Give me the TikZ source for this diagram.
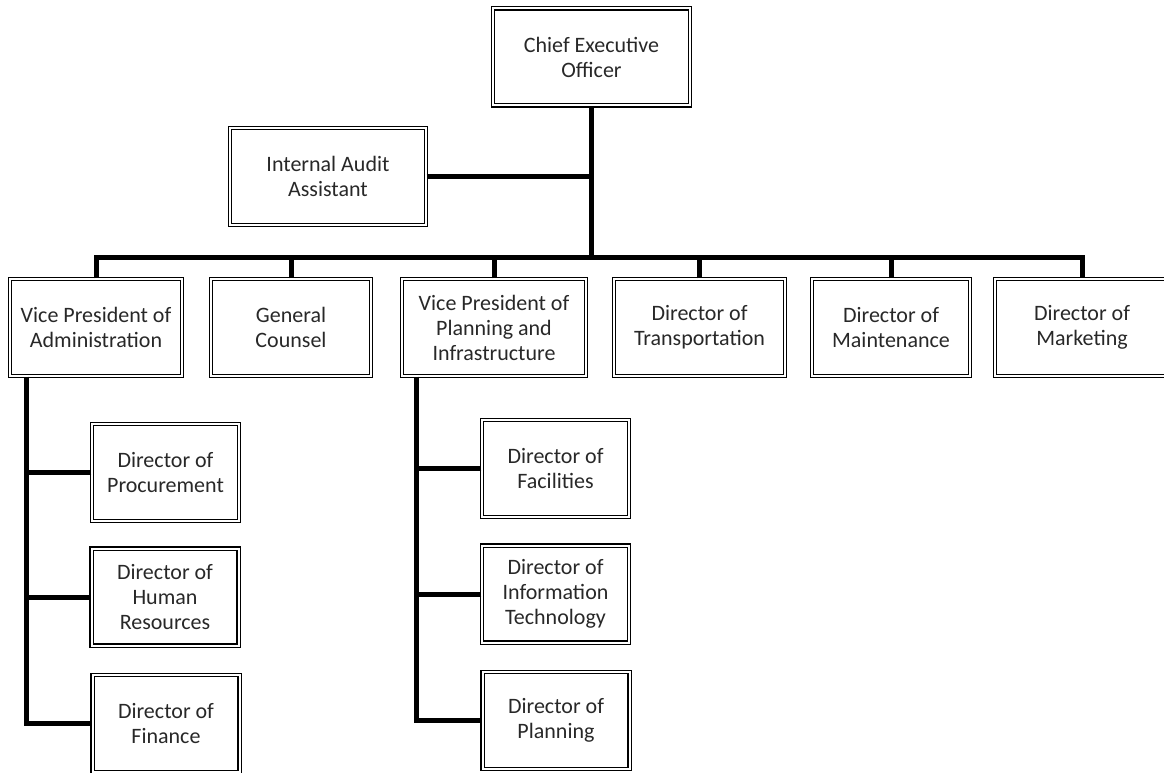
\documentclass[tikz,border=0pt]{standalone}
\usepackage{fontspec}
\setmainfont{Carlito}
\usepackage{tikz}
\usetikzlibrary{positioning,calc}
\definecolor{boxtext}{RGB}{40,40,40}

\begin{document}
\begin{tikzpicture}[x=1pt,y=-1pt,
  post/.style={draw,double,double distance=2pt,line width=1.1pt,align=center,
    text=boxtext,minimum height=97pt,inner sep=2pt,
    font=\fontsize{22}{25}\selectfont},
  link/.style={line width=5pt}]
  \useasboundingbox (0,0) rectangle (1164,773);
  \clip (0,0) rectangle (1164,773);
  \node[post,minimum width=197pt] (ceo) at (591.5,57) {Chief Executive\\Officer};
  \node[post,minimum width=196pt] (audit) at (328,176.5) {Internal Audit\\Assistant};
  \node[post,minimum width=172pt] (vpadmin) at (96,327.5) {Vice President of\\Administration};
  \node[post,minimum width=160pt] (counsel) at (291,327.5) {General\\Counsel};
  \node[post,minimum width=184pt] (vpplan) at (494,327.5) {Vice President of\\Planning and\\Infrastructure};
  \node[post,minimum width=171pt] (transport) at (699.5,327.5) {Director of\\Transportation};
  \node[post,minimum width=158pt] (maint) at (891,327.5) {Director of\\Maintenance};
  \node[post,minimum width=174pt] (market) at (1082,327.5) {Director of\\Marketing};
  \node[post,minimum width=147pt] (procure) at (165.5,472.5) {Director of\\Procurement};
  \node[post,minimum width=147pt] (hr) at (165,597) {Director of\\Human\\Resources};
  \node[post,minimum width=147pt] (finance) at (166,723.5) {Director of\\Finance};
  \node[post,minimum width=147pt] (facil) at (555.5,468.5) {Director of\\Facilities};
  \node[post,minimum width=147pt] (infotech) at (555.5,594) {Director of\\Information\\Technology};
  \node[post,minimum width=147pt] (planning) at (556,720.5) {Director of\\Planning};
  \coordinate (bus) at (591.5,257);
  \coordinate (adminspine) at ([xshift=17pt]vpadmin.south west);
  \coordinate (planspine) at ([xshift=15pt]vpplan.south west);
  \draw[link] (ceo.south) -- (bus);
  \draw[link] (audit.east) -- (audit.east -| bus);
  \draw[link] (vpadmin.north) |- (bus) -| (market.north);
  \foreach \n in {counsel,vpplan,transport,maint}
    \draw[link] (\n.north) -- (\n.north |- bus);
  \draw[link] (adminspine) |- (finance.west);
  \draw[link] (procure.west) -- (procure.west -| adminspine);
  \draw[link] (hr.west) -- (hr.west -| adminspine);
  \draw[link] (planspine) |- (planning.west);
  \draw[link] (facil.west) -- (facil.west -| planspine);
  \draw[link] (infotech.west) -- (infotech.west -| planspine);
\end{tikzpicture}
\end{document}
